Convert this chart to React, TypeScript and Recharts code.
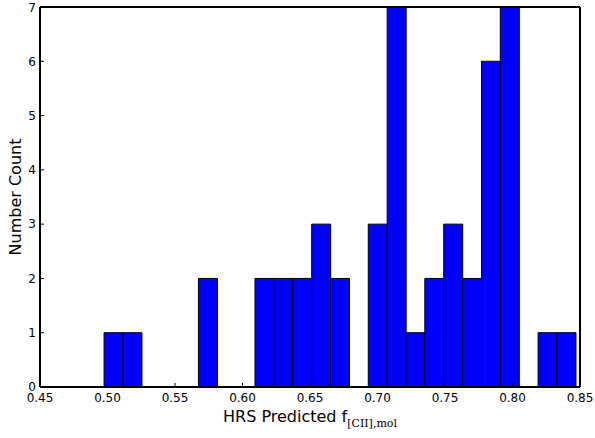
import { BarChart, Bar, XAxis, YAxis } from 'recharts';

// histogram bins (centres) and counts
const binCenters = [
  0.5044, 0.5184, 0.5324, 0.5463, 0.5603, 0.5743, 0.5883, 0.6022, 0.6162,
  0.6302, 0.6442, 0.6582, 0.6721, 0.6861, 0.7001, 0.7141, 0.728, 0.742,
  0.756, 0.77, 0.784, 0.7979, 0.8119, 0.8259, 0.8399,
];
const counts = [1, 1, 0, 0, 0, 2, 0, 0, 2, 2, 2, 3, 2, 0, 3, 7, 1, 2, 3, 2, 6, 7, 0, 1, 1];

const xTicks = [0.45, 0.5, 0.55, 0.6, 0.65, 0.7, 0.75, 0.8, 0.85];
const yTicks = [0, 1, 2, 3, 4, 5, 6, 7];

const data = binCenters.map((x, i) => ({ x, count: counts[i] }));

const FONT = '"DejaVu Sans", sans-serif';
const tickStyle = { fontSize: 12, fill: '#000', fontFamily: FONT };
const lineStyle = { stroke: '#000', strokeWidth: 2 };
const tickLineStyle = { stroke: '#000', strokeWidth: 1 };

const YLabel = ({ viewBox }: any) => {
  const x = viewBox.x + 15;
  const y = viewBox.y + viewBox.height / 2;
  return (
    <text x={x} y={y} transform={`rotate(-90, ${x}, ${y})`} textAnchor="middle" dominantBaseline="central"
      fontSize={16} fontFamily={FONT} fill="#000">
      Number Count
    </text>
  );
};

const XLabel = ({ viewBox }: any) => {
  const x = viewBox.x + viewBox.width / 2;
  return (
    <text x={x} y={422} textAnchor="middle" fontSize={16} fontFamily={FONT} fill="#000">
      HRS Predicted f
      <tspan dy={5} fontSize={11} fontFamily='"DejaVu Serif", serif'>[CII],mol</tspan>
    </text>
  );
};

export default function App() {
  return (
    <div style={{ position: 'absolute', left: 0, top: 0, width: 595, height: 438, background: '#fff' }}>
      <BarChart
        width={595}
        height={438}
        data={data}
        margin={{ top: 6, right: 14, bottom: 0, left: 0 }}
        barCategoryGap={0}
        barGap={0}
      >
        <XAxis
          xAxisId="b"
          dataKey="x"
          type="number"
          domain={[0.45, 0.85]}
          ticks={xTicks}
          allowDataOverflow
          tickFormatter={(v: number) => v.toFixed(2)}
          tick={tickStyle}
          tickSize={-4}
          tickMargin={10}
          tickLine={tickLineStyle}
          axisLine={lineStyle}
          height={51}
          label={<XLabel />}
        />
        <XAxis
          xAxisId="t"
          orientation="top"
          dataKey="x"
          type="number"
          domain={[0.45, 0.85]}
          ticks={xTicks}
          allowDataOverflow
          tick={false}
          tickSize={-4}
          tickLine={tickLineStyle}
          axisLine={lineStyle}
          height={1}
        />
        <YAxis
          yAxisId="l"
          domain={[0, 7]}
          ticks={yTicks}
          allowDataOverflow
          tick={tickStyle}
          tickSize={-4}
          tickMargin={8}
          tickLine={tickLineStyle}
          axisLine={lineStyle}
          width={40}
          label={<YLabel />}
        />
        <YAxis
          yAxisId="r"
          orientation="right"
          domain={[0, 7]}
          ticks={yTicks}
          allowDataOverflow
          tick={false}
          tickSize={-4}
          tickLine={tickLineStyle}
          axisLine={lineStyle}
          width={1}
        />
        <Bar
          xAxisId="b"
          yAxisId="l"
          dataKey="count"
          fill="#0000ff"
          stroke="#000"
          strokeWidth={1}
          isAnimationActive={false}
        />
      </BarChart>
    </div>
  );
}
